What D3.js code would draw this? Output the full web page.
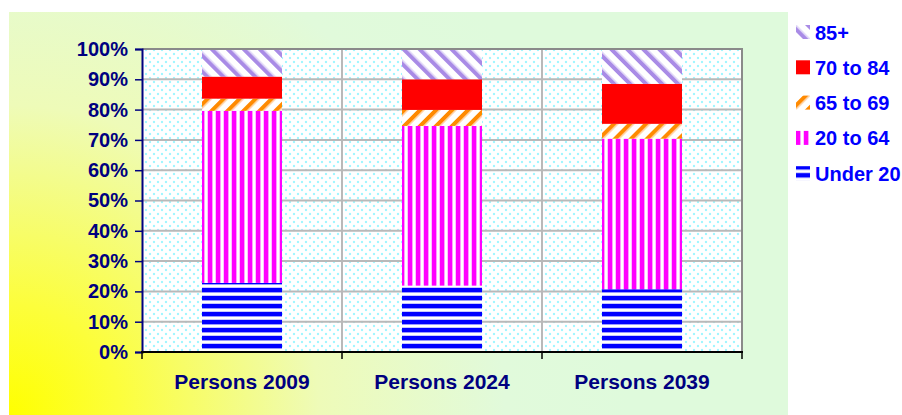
<!DOCTYPE html>
<html>
<head>
<meta charset="utf-8">
<script src="https://cdn.jsdelivr.net/npm/d3@7"></script>
<style>
  html, body { margin: 0; padding: 0; background: #ffffff; }
  svg { display: block; font-family: "Liberation Sans", Arial, sans-serif; font-weight: bold; }
</style>
</head>
<body>
<svg id="chart" width="902" height="415"></svg>
<script>
// Population share by age group (percent of persons)
const categories = ["Persons 2009", "Persons 2024", "Persons 2039"];
const ageGroups = ["Under 20", "20 to 64", "65 to 69", "70 to 84", "85+"];
const under20 = [22.8, 21.9, 20.7];
const age20to64 = [56.8, 52.7, 49.7];
const age65to69 = [4.0, 5.3, 4.9];
const age70to84 = [7.3, 10.1, 13.2];
const age85plus = [9.1, 10.0, 11.5];
const yTicks = [0, 10, 20, 30, 40, 50, 60, 70, 80, 90, 100];

const seriesValues = [under20, age20to64, age65to69, age70to84, age85plus];
const rows = categories.map((c, i) => {
  const r = { category: c };
  ageGroups.forEach((g, k) => { r[g] = seriesValues[k][i]; });
  return r;
});

const svg = d3.select("#chart");
const defs = svg.append("defs");

// Panel background: yellow glow from the lower-left corner fading to pale green
const bg = defs.append("radialGradient").attr("id", "bgGrad")
  .attr("gradientUnits", "userSpaceOnUse")
  .attr("cx", 9).attr("cy", 415).attr("r", 620);
bg.append("stop").attr("offset", 0).attr("stop-color", "#ffff00");
bg.append("stop").attr("offset", 0.18).attr("stop-color", "#fcfe3c");
bg.append("stop").attr("offset", 0.5).attr("stop-color", "#eefbb8");
bg.append("stop").attr("offset", 0.8).attr("stop-color", "#e1fadb");
bg.append("stop").attr("offset", 1).attr("stop-color", "#dffadc");

// Dotted fill of the plotting area
const dots = defs.append("pattern").attr("id", "dots")
  .attr("patternUnits", "userSpaceOnUse").attr("width", 8).attr("height", 8);
dots.append("rect").attr("width", 8).attr("height", 8).attr("fill", "#ffffff");
[[2, 2], [6, 6]].forEach(([x, y]) => {
  dots.append("circle").attr("cx", x).attr("cy", y).attr("r", 1.2).attr("fill", "#c4fbff");
  dots.append("circle").attr("cx", x).attr("cy", y).attr("r", 0.7).attr("fill", "#66eeff");
});

// Fill patterns for the age groups
function stripes(id, size, angle) {
  const p = defs.append("pattern").attr("id", id)
    .attr("patternUnits", "userSpaceOnUse")
    .attr("width", size).attr("height", size);
  if (angle) p.attr("patternTransform", `rotate(${angle})`);
  p.append("rect").attr("width", size).attr("height", size).attr("fill", "#ffffff");
  return p;
}
// Under 20: horizontal blue bands
const pH = stripes("pUnder20", 8, 0);
pH.append("rect").attr("y", 0).attr("width", 8).attr("height", 4).attr("fill", "#0000ff");
pH.append("rect").attr("y", 4).attr("width", 8).attr("height", 1).attr("fill", "#9a9aff");
pH.append("rect").attr("y", 7).attr("width", 8).attr("height", 1).attr("fill", "#c8c8ff");
// 20 to 64: vertical magenta bands
const pV = stripes("p20to64", 8, 0);
pV.append("rect").attr("x", 0).attr("width", 4).attr("height", 8).attr("fill", "#ff00ff");
pV.append("rect").attr("x", 4).attr("width", 1).attr("height", 8).attr("fill", "#ff9cff");
pV.append("rect").attr("x", 7).attr("width", 1).attr("height", 8).attr("fill", "#ffc0ff");
// 65 to 69: upward diagonal orange
const pU = stripes("p65to69", 11.3, 45);
pU.append("rect").attr("width", 4).attr("height", 11.3).attr("fill", "#ff8a00");
pU.append("rect").attr("x", 4).attr("width", 1.2).attr("height", 11.3).attr("fill", "#ffc080");
// 85+: downward diagonal lavender
const pD = stripes("p85plus", 11.3, -45);
pD.append("rect").attr("width", 4).attr("height", 11.3).attr("fill", "#a98be6");
pD.append("rect").attr("x", 4).attr("width", 1.2).attr("height", 11.3).attr("fill", "#d6c8f4");

const fills = {
  "Under 20": "url(#pUnder20)",
  "20 to 64": "url(#p20to64)",
  "65 to 69": "url(#p65to69)",
  "70 to 84": "#ff0000",
  "85+": "url(#p85plus)"
};

// Background panel
svg.append("rect").attr("x", 9).attr("y", 12).attr("width", 779).attr("height", 410)
  .attr("fill", "url(#bgGrad)");

const plot = { left: 142, right: 742, top: 49, bottom: 352 };

const x = d3.scaleBand().domain(categories)
  .range([plot.left, plot.right]).paddingInner(0.6).paddingOuter(0.3);
const y = d3.scaleLinear().domain([0, 100]).range([plot.bottom, plot.top]);
// left edge of each category's slot
const slotStart = c => x(c) - (x.step() - x.bandwidth()) / 2;

// Plot area
svg.append("rect").attr("x", plot.left).attr("y", plot.top)
  .attr("width", plot.right - plot.left).attr("height", plot.bottom - plot.top)
  .attr("fill", "url(#dots)");

// Gridlines
svg.append("g").selectAll("line").data(yTicks.filter(t => t > 0 && t < 100)).join("line")
  .attr("x1", plot.left).attr("x2", plot.right)
  .attr("y1", d => y(d)).attr("y2", d => y(d))
  .attr("stroke", "#b9b9b9").attr("stroke-width", 2);
svg.append("g").selectAll("line").data(categories.slice(1)).join("line")
  .attr("x1", d => slotStart(d)).attr("x2", d => slotStart(d))
  .attr("y1", plot.top).attr("y2", plot.bottom)
  .attr("stroke", "#b9b9b9").attr("stroke-width", 2);

// Stacked bars
const stack = d3.stack().keys(ageGroups)(rows);
svg.append("g").selectAll("g").data(stack).join("g")
  .attr("fill", d => fills[d.key])
  .selectAll("rect").data(d => d).join("rect")
  .attr("x", d => x(d.data.category))
  .attr("width", x.bandwidth())
  .attr("y", d => y(d[1]))
  .attr("height", d => y(d[0]) - y(d[1]));

// Frame: grey top/right, axes on left/bottom
svg.append("line").attr("x1", plot.left).attr("x2", plot.right + 1)
  .attr("y1", plot.top).attr("y2", plot.top).attr("stroke", "#8a8a8a").attr("stroke-width", 2);
svg.append("line").attr("x1", plot.right).attr("x2", plot.right)
  .attr("y1", plot.top).attr("y2", plot.bottom).attr("stroke", "#8a8a8a").attr("stroke-width", 2);

const yAxis = svg.append("g").attr("transform", `translate(${plot.left},0)`)
  .call(d3.axisLeft(y).tickValues(yTicks).tickFormat(d => d + "%").tickSize(7).tickPadding(7));
yAxis.select(".domain").attr("stroke", "#000080").attr("stroke-width", 2);
yAxis.selectAll(".tick line").attr("stroke", "#000080").attr("stroke-width", 1.5);
yAxis.selectAll("text").attr("fill", "#000080")
  .style("font-size", "20px").style("font-weight", "bold")
  .style("font-family", "'Liberation Sans', Arial, sans-serif");

// Category axis with ticks at slot boundaries
const xAxis = svg.append("g").attr("transform", `translate(0,${plot.bottom})`);
xAxis.append("line").attr("x1", plot.left - 1).attr("x2", plot.right + 1)
  .attr("stroke", "#000000").attr("stroke-width", 2);
const edges = categories.map(slotStart).concat([plot.right]);
xAxis.selectAll("line.tk").data(edges).join("line").attr("class", "tk")
  .attr("x1", d => d).attr("x2", d => d).attr("y1", 0).attr("y2", 7)
  .attr("stroke", "#000000").attr("stroke-width", 1.5);
xAxis.selectAll("text").data(categories).join("text")
  .attr("x", d => x(d) + x.bandwidth() / 2).attr("y", 37)
  .attr("text-anchor", "middle").attr("fill", "#000080")
  .style("font-size", "21px").text(d => d);

// Legend
const legend = svg.append("g");
legend.append("rect").attr("x", 788).attr("y", 12).attr("width", 120).attr("height", 181)
  .attr("fill", "#ffffff");
const legendOrder = ageGroups.slice().reverse();
const li = legend.selectAll("g").data(legendOrder).join("g")
  .attr("transform", (d, i) => `translate(796,${32 + i * 35.3})`);
li.append("rect").attr("x", 0).attr("y", -7).attr("width", 14).attr("height", 14)
  .attr("fill", d => fills[d]);
li.append("text").attr("x", 19).attr("y", 7.5).attr("fill", "#0000ff")
  .style("font-size", "20px").text(d => d);
</script>
</body>
</html>
